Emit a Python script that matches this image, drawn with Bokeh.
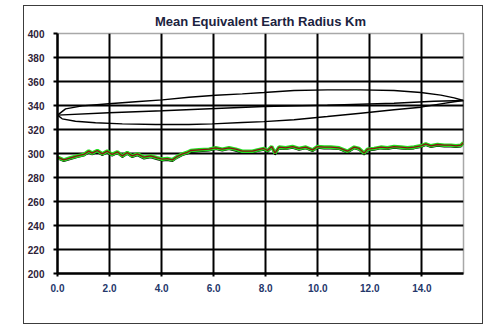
from bokeh.plotting import figure
from bokeh.models import Range1d, FixedTicker, CustomJSTickFormatter, NumeralTickFormatter
from bokeh.embed import file_html
from bokeh.resources import INLINE

title_text = "Mean Equivalent Earth Radius Km"
x_ticks = [0, 2, 4, 6, 8, 10, 12, 14]
y_ticks = [200, 220, 240, 260, 280, 300, 320, 340, 360, 380, 400]

# main series (green / dark red)
series_x = [0.0, 0.24, 0.5, 0.76, 1.01, 1.2, 1.33, 1.53, 1.72, 1.91, 2.1, 2.3, 2.49, 2.68, 2.87,
            3.07, 3.32, 3.58, 3.83, 4.03, 4.22, 4.41, 4.6, 4.8, 4.99, 5.12, 5.43, 5.82, 6.08,
            6.33, 6.59, 6.85, 7.1, 7.49, 7.68, 7.93, 8.07, 8.23, 8.36, 8.51, 8.77, 9.03, 9.28,
            9.54, 9.8, 9.99, 10.24, 10.5, 10.82, 11.14, 11.4, 11.59, 11.78, 11.91, 12.17, 12.42,
            12.68, 12.93, 13.19, 13.45, 13.7, 13.96, 14.15, 14.35, 14.6, 14.86, 15.12, 15.31,
            15.5, 15.6]
series_y = [296.9, 294.7, 296.4, 298.0, 299.2, 302.0, 300.3, 302.5, 299.7, 302.0, 299.2, 301.4,
            298.0, 300.8, 298.0, 299.7, 296.9, 298.0, 296.4, 295.3, 295.8, 294.7, 297.5, 299.7,
            301.0, 302.5, 303.0, 303.6, 304.7, 303.6, 304.7, 303.6, 301.9, 301.9, 303.0, 304.2,
            302.5, 305.8, 300.3, 305.3, 304.7, 305.8, 304.2, 305.3, 303.0, 305.8, 305.3, 305.3,
            304.7, 301.9, 305.3, 304.2, 300.3, 303.6, 304.2, 305.3, 304.7, 305.8, 305.3, 304.7,
            305.3, 306.4, 308.0, 306.4, 307.5, 306.9, 306.9, 306.4, 306.9, 309.2]
# black companion series, slightly below
shadow_y = [295.8, 293.6, 295.2, 296.9, 298.1, 300.6, 299.1, 301.2, 298.5, 300.8, 298.0, 300.1,
            296.9, 299.5, 296.8, 298.4, 295.7, 296.6, 295.0, 293.9, 294.4, 293.5, 296.3, 298.5,
            299.8, 301.0, 301.8, 302.4, 303.5, 302.4, 303.5, 302.2, 300.6, 300.7, 301.8, 303.0,
            301.2, 304.5, 299.0, 304.1, 303.5, 304.6, 303.0, 304.1, 301.8, 304.6, 304.1, 304.1,
            303.5, 300.6, 304.1, 303.0, 299.0, 302.4, 303.0, 304.1, 303.5, 304.6, 304.1, 303.5,
            304.1, 305.2, 306.8, 305.2, 306.3, 305.7, 305.7, 305.2, 305.7, 308.0]

# closed loop (ellipse-like) curves
upper_x = [0.0, 0.31, 0.95, 1.97, 3.0, 4.03, 5.05, 6.08, 7.1, 7.93, 9.09, 10.37, 11.65, 12.93,
           13.96, 14.73, 15.24, 15.6]
upper_y = [332.0, 337.2, 339.7, 341.4, 343.1, 344.7, 346.9, 348.6, 349.7, 350.8, 352.5, 353.0,
           353.0, 352.5, 350.8, 348.6, 346.4, 344.2]
lower_x = [0.0, 0.18, 0.69, 1.46, 2.49, 3.77, 5.05, 5.95, 7.1, 7.93, 9.09, 10.37, 11.65, 12.93,
           13.96, 14.73, 15.24, 15.6]
lower_y = [332.0, 328.9, 326.9, 325.6, 324.7, 324.2, 324.2, 324.7, 325.8, 326.6, 328.1, 330.8,
           333.6, 336.4, 338.6, 341.4, 343.1, 344.2]
mid_x = [0.0, 1.97, 4.03, 6.08, 7.93, 10.37, 12.93, 14.47, 15.6]
mid_y = [332.0, 333.9, 335.6, 337.5, 339.2, 340.3, 341.9, 343.6, 344.2]
link_x = [15.6, 15.6]
link_y = [309.2, 344.2]

FONT = "Liberation Sans"

p = figure(width=458, height=317, output_backend="svg", toolbar_location=None,
           x_range=Range1d(0, 15.6), y_range=Range1d(200, 400),
           min_border_left=33, min_border_right=19, min_border_top=27, min_border_bottom=50,
           margin=(6, 0, 0, 24),
           styles={"outline": "1.5px solid #3c3c3c"})
p.background_fill_color = "white"
p.border_fill_color = "white"
p.outline_line_color = "#a8a8a8"
p.outline_line_width = 1.5

p.title.text = title_text
p.title.text_font = FONT
p.title.text_font_size = "13px"
p.title.text_font_style = "bold"
p.title.text_color = "#1c2340"
p.title.align = "center"
p.title.offset = -6

p.xaxis.ticker = FixedTicker(ticks=x_ticks)
p.yaxis.ticker = FixedTicker(ticks=y_ticks)
p.xaxis.formatter = NumeralTickFormatter(format="0.0")
p.xgrid.ticker = FixedTicker(ticks=x_ticks)
p.ygrid.ticker = FixedTicker(ticks=y_ticks)

for ax in (p.xaxis, p.yaxis):
    ax.axis_line_color = "black"
    ax.axis_line_width = 2.5
    ax.major_tick_line_color = "black"
    ax.major_tick_line_width = 2
    ax.minor_tick_line_color = None
    ax.major_tick_in = 0
    ax.major_label_text_font = FONT
    ax.major_label_text_font_size = "10px"
    ax.major_label_text_font_style = "bold"
p.yaxis.major_tick_out = 4
p.yaxis.major_label_standoff = 9
p.yaxis.major_label_text_color = "#2e2238"
p.xaxis.major_tick_out = 3
p.xaxis.major_label_standoff = 7
p.xaxis.major_label_text_color = "#24366a"

p.xgrid.grid_line_color = "black"
p.ygrid.grid_line_color = "black"
p.xgrid.grid_line_width = 2
p.ygrid.grid_line_width = 2

# loop
p.line(upper_x, upper_y, line_color="black", line_width=1.4)
p.line(lower_x, lower_y, line_color="black", line_width=1.4)
p.line(mid_x, mid_y, line_color="black", line_width=1.4)
p.line(link_x, link_y, line_color="black", line_width=1.4)

# series
p.line(series_x, shadow_y, line_color="black", line_width=1.6)
p.line(series_x, series_y, line_color="#22e022", line_width=3.6)
p.line(series_x, series_y, line_color="#8b1212", line_width=1.3)

open("out.html", "w").write(file_html(p, INLINE))
